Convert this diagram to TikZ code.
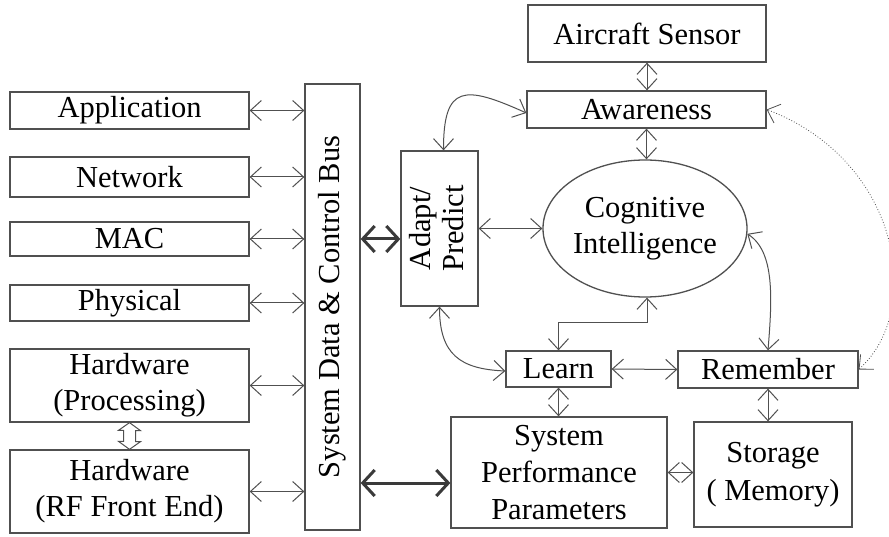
\documentclass[tikz,border=0pt]{standalone}
\usepackage{fontspec}
\setmainfont{Liberation Serif}
\usetikzlibrary{arrows.meta,shapes.geometric,calc}
\definecolor{linec}{HTML}{505050}
\definecolor{thickc}{HTML}{3A3A3A}
\begin{document}
\begin{tikzpicture}[x=1pt,y=-1pt,
  blk/.style={draw=linec,line width=1.3pt,rectangle,inner sep=0pt,align=center,font=\fontsize{30.5}{36}\selectfont},
  conn/.style={draw=linec,line width=1pt,arrows={Straight Barb[length=11pt,width=20pt]-Straight Barb[length=11pt,width=20pt]}},
  thickconn/.style={draw=thickc,line width=3pt,arrows={Straight Barb[length=12pt,width=26pt]-Straight Barb[length=12pt,width=26pt]}},
  dotconn/.style={conn,line width=0.8pt,dotted}]
\useasboundingbox (0,0) rectangle (889,537);
\fill[white] (0,0) rectangle (889,537);

% left column
\node[blk,minimum width=239pt,minimum height=37pt] (app) at (129.5,110.5) {Application};
\node[blk,minimum width=239pt,minimum height=40pt] (net) at (129.5,177) {Network};
\node[blk,minimum width=239pt,minimum height=34pt] (mac) at (129.5,239) {MAC};
\node[blk,minimum width=239pt,minimum height=36pt] (phys) at (129.5,303) {Physical};
\node[blk,minimum width=239pt,minimum height=73pt] (hwp) at (129.5,385.5) {Hardware\\(Processing)};
\node[blk,minimum width=239pt,minimum height=83pt] (hwr) at (129.5,491.5) {Hardware\\(RF Front End)};

% bus
\node[blk,minimum width=55pt,minimum height=446pt] (bus) at (332.5,307) {\rotatebox{90}{System Data \& Control Bus}};

% adapt
\node[blk,minimum width=77pt,minimum height=155pt] (adapt) at (439.5,228.5)
  {\rotatebox{90}{\begin{tabular}{@{}c@{}}Adapt/\\[-3pt]Predict\end{tabular}}};

% right part
\node[blk,minimum width=238pt,minimum height=57pt] (sensor) at (647,33.5) {Aircraft Sensor};
\node[blk,minimum width=239pt,minimum height=37pt] (aware) at (646.5,109.5) {Awareness};
\node[blk,ellipse,minimum width=204pt,minimum height=137pt] (cog) at (645,228.5) {Cognitive\\Intelligence};
\node[blk,minimum width=105pt,minimum height=36pt] (learn) at (558.5,369) {Learn};
\node[blk,minimum width=180pt,minimum height=37pt] (rem) at (768,369.5) {Remember};
\node[blk,minimum width=216pt,minimum height=111pt,font=\fontsize{30.5}{37}\selectfont] (spp) at (559,472.5) {System\\Performance\\Parameters};
\node[blk,minimum width=158pt,minimum height=105pt,font=\fontsize{30.5}{38}\selectfont] (sto) at (773,474.5) {Storage\\( Memory)};

% left connectors
\foreach \n in {app,net,mac,phys,hwp,hwr}
  \draw[conn] (\n.east) -- (bus.west |- \n.east);

% hollow double arrow between hardware boxes
\draw[draw=linec,fill=white,line width=1pt]
  (hwp.south) -- ++(11,8) -- ++(-5,0) -- ++(0,11) -- ++(5,0) -- (hwr.north)
  -- ++(-11,-8) -- ++(5,0) -- ++(0,-11) -- ++(-5,0) -- cycle;

% thick connectors
\coordinate (ta) at ($(adapt.west)+(0,10.5)$);
\draw[thickconn] (bus.east |- ta) -- (ta);
\coordinate (ts) at ($(spp.west)+(0,10.5)$);
\draw[thickconn] (bus.east |- ts) -- (ts);

% right connectors
\draw[conn] (sensor.south) -- (sensor.south |- aware.north);
\draw[conn] (aware.south) -- (aware.south |- cog.north);
\draw[conn] (adapt.east) -- (cog.west);
\draw[conn] (learn.east) -- (rem.west);
\draw[conn] (learn.south) -- (learn.south |- spp.north);
\draw[conn] (rem.south) -- (rem.south |- sto.north);
\draw[conn] (spp.east) -- (sto.west |- spp.east);
\draw[conn] (learn.north) -- ++(0,-28) -| ($(cog.south)+(2,0)$);

% curved connectors
\coordinate (at) at ($(adapt.north)+(4,0)$);
\coordinate (aw) at ($(aware.west)+(0,3.5)$);
\draw[conn] (at) .. controls +(0,-66) and +(-62,-28) .. (aw);
\coordinate (ab) at (adapt.south);
\coordinate (lw) at ($(learn.west)+(0,2)$);
\draw[conn] (ab) .. controls +(0,48) and +(-45,-2) .. (lw);
\draw[conn] (cog.-3) .. controls +(28,18) and +(4,-50) .. (rem.north);
\draw[dotconn] (rem.east) .. controls (925,310) and (900,160) .. (aware.east);
\end{tikzpicture}
\end{document}
